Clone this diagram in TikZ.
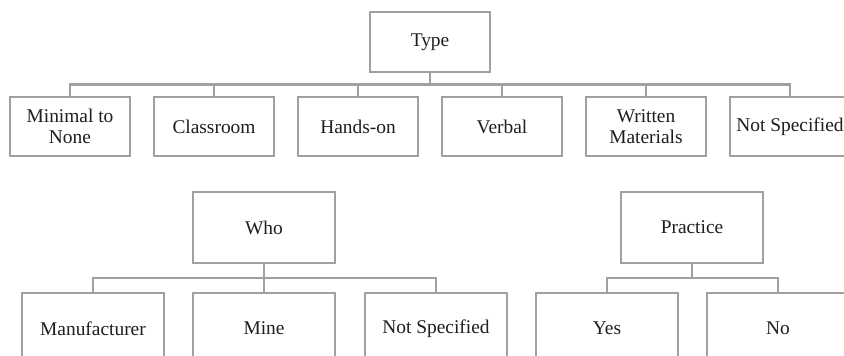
\documentclass[tikz,border=0pt]{standalone}
\usepackage{fontspec}
\setmainfont{Liberation Serif}
\usetikzlibrary{calc}
\definecolor{boxgray}{RGB}{160,160,160}
\definecolor{txt}{RGB}{30,30,30}
\tikzset{
  box/.style={draw=boxgray, line width=2.5pt, fill=white, rectangle, inner sep=0pt,
    align=center, text=txt, font=\fontsize{19.4}{21.5}\selectfont},
  topbox/.style={box, minimum width=120pt, minimum height=59pt},
  lowbox/.style={box, minimum width=142pt, minimum height=71pt},
  conn/.style={draw=boxgray, line width=2.5pt},
}
\begin{document}
\begin{tikzpicture}[x=1pt,y=-1pt]
\useasboundingbox (0,0) rectangle (844,356);
\clip (0,0) rectangle (844,356);
\fill[white] (0,0) rectangle (844,356);
% top tree
\node[topbox, minimum height=60pt] (type) at (430,42) {Type};
\node[topbox] (t1) at (70,126.5) {Minimal to\\None};
\node[topbox] (t2) at (214,126.5) {Classroom};
\node[topbox] (t3) at (358,126.5) {Hands-on};
\node[topbox] (t4) at (502,126.5) {Verbal};
\node[topbox] (t5) at (646,126.5) {Written\\Materials};
\node[topbox] (t6) at (790,126.5) {Not Specified};
\foreach \c in {t1,t2,t3,t4,t5,t6}
  \draw[conn] (type.south) |- ($(type.south)!.5!(\c.north)$) -| (\c.north);
% who tree
\node[lowbox] (who) at (264,227.5) {Who};
\node[lowbox] (w1) at (93,328.5) {Manufacturer};
\node[lowbox] (w2) at (264,328.5) {Mine};
\node[lowbox] (w3) at (436,328.5) {Not Specified};
\foreach \c in {w1,w2,w3}
  \draw[conn] (who.south) |- ($(who.south)!.5!(\c.north)$) -| (\c.north);
% practice tree
\node[lowbox] (pr) at (692,227.5) {Practice};
\node[lowbox] (p1) at (607,328.5) {Yes};
\node[lowbox] (p2) at (778,328.5) {No};
\foreach \c in {p1,p2}
  \draw[conn] (pr.south) |- ($(pr.south)!.5!(\c.north)$) -| (\c.north);
\end{tikzpicture}
\end{document}
